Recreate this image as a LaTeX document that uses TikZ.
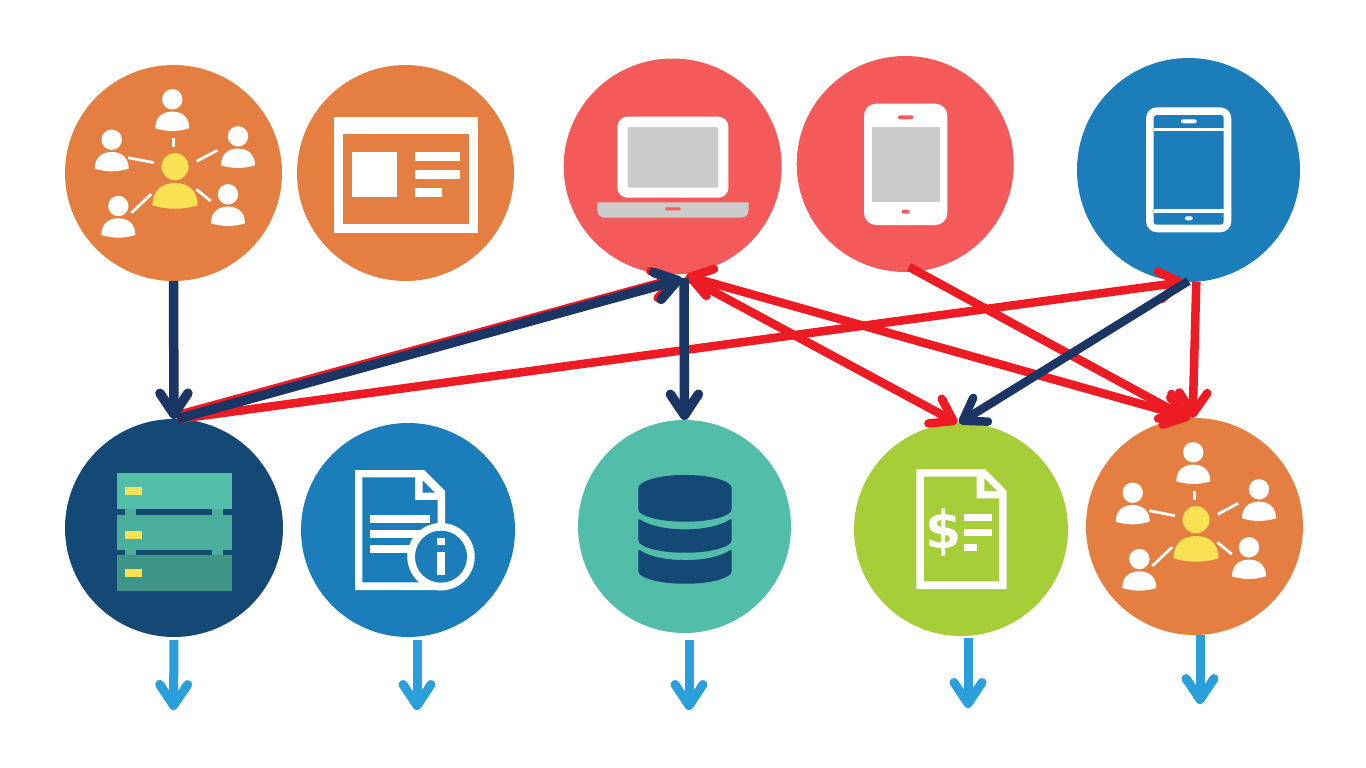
\documentclass[tikz,border=0pt]{standalone}
\usepackage{fontspec}
\setmainfont{Liberation Sans}
\newfontfamily\dollarfont{DejaVu Sans}
\usetikzlibrary{arrows.meta,shapes.geometric}
\definecolor{orangeC}{HTML}{E47E41}
\definecolor{coralC}{HTML}{F45A5A}
\definecolor{blueC}{HTML}{1B7DB9}
\definecolor{deepC}{HTML}{144875}
\definecolor{tealC}{HTML}{52BDA9}
\definecolor{tealM}{HTML}{4BAD9C}
\definecolor{tealD}{HTML}{3E9585}
\definecolor{greenC}{HTML}{A6CE39}
\definecolor{greyC}{HTML}{CCCCCC}
\definecolor{yellowC}{HTML}{F9E154}
\definecolor{navyA}{HTML}{1B3564}
\definecolor{redA}{HTML}{ED1C24}
\definecolor{skyA}{HTML}{2A9FDC}
\tikzset{
  disc/.style={shape=ellipse,inner sep=0pt,outer sep=0pt,draw=none},
  barb/.style={-{Straight Barb[round,length=21pt,width=28pt]},line cap=butt,line join=round},
  barbboth/.style={{Straight Barb[round,length=21pt,width=28pt]}-{Straight Barb[round,length=21pt,width=28pt]},line cap=butt,line join=round},
  navyarrow/.style={barb,draw=navyA,line width=9.5pt},
  redarrow/.style={barb,draw=redA,line width=8.5pt},
  redboth/.style={barbboth,draw=redA,line width=8.5pt},
  skyarrow/.style={barb,draw=skyA,line width=9pt},
  linkline/.style={draw=white,line width=2.8pt},
}
\newcommand{\personat}[4]{% head x, head y, scale, colour
  \begin{scope}[shift={(#1,#2)},scale=#3]
    \fill[#4] (0,0) circle[radius=10.2];
    \fill[#4] (-17,29) .. controls (-17,18) and (-10,12.3) .. (0,12.3)
      .. controls (10,12.3) and (17,18) .. (17,29)
      .. controls (6,32.5) and (-6,32.5) .. (-17,29) -- cycle;
  \end{scope}}
\newcommand{\groupicon}{%
  \personat{172.3}{99.3}{1}{white}
  \personat{111.7}{139.7}{1}{white}
  \personat{238}{136.3}{1}{white}
  \personat{118.3}{206}{1}{white}
  \personat{228}{194.3}{1}{white}
  \personat{175}{166.7}{1.33}{yellowC}
  \draw[linkline] (173.7,137.7) -- (173.7,146.7);
  \draw[linkline] (128.3,157.7) -- (154,162.7);
  \draw[linkline] (196.7,161.3) -- (217.3,150.3);
  \draw[linkline] (131.3,213) -- (151.3,194);
  \draw[linkline] (196.3,189.3) -- (210.7,201);}
\begin{document}
\begin{tikzpicture}[x=1pt,y=-1pt]
\useasboundingbox (0,0) rectangle (1366,768);
\fill[white] (0,0) rectangle (1366,768);
% discs
\node[disc,fill=orangeC,minimum width=217pt,minimum height=216pt] (c1) at (173.5,173) {};
\node[disc,fill=orangeC,minimum width=217pt,minimum height=216pt] (c2) at (405.5,173) {};
\node[disc,fill=coralC,minimum width=218pt,minimum height=216pt] (c3) at (672.7,166.5) {};
\node[disc,fill=coralC,minimum width=217pt,minimum height=216pt] (c4) at (905.2,164) {};
\node[disc,fill=blueC,minimum width=223pt,minimum height=224pt] (c5) at (1188.5,170) {};
\node[disc,fill=deepC,minimum width=218pt,minimum height=218pt] (c6) at (174,528) {};
\node[disc,fill=blueC,minimum width=214pt,minimum height=214pt] (c7) at (408,530) {};
\node[disc,fill=tealC,minimum width=213pt,minimum height=213pt] (c8) at (684.5,526.5) {};
\node[disc,fill=greenC,minimum width=214pt,minimum height=213pt] (c9) at (961,529.5) {};
\node[disc,fill=orangeC,minimum width=217pt,minimum height=217pt] (c10) at (1194.5,526.5) {};
% group icons
\groupicon
\begin{scope}[shift={(1021,353)}]\groupicon\end{scope}
% window icon
\fill[white] (334,116.7) rectangle (477.7,233);
\fill[orangeC] (343.3,134.3) rectangle (468.7,224);
\fill[white] (352.3,152.3) rectangle (397,197);
\fill[white] (414.7,152.3) rectangle (459.7,161.3);
\fill[white] (414.7,170.3) rectangle (459.7,179.3);
\fill[white] (414.7,188) rectangle (442,197);
% laptop
\fill[white,rounded corners=10pt] (617.4,116.7) rectangle (728.4,197.7);
\fill[greyC,rounded corners=1.5pt] (627.5,127) rectangle (718.4,187.7);
\fill[greyC] (597.3,202.3) -- (748.5,202.3) -- (748.5,210) .. controls (748.5,215) and (745,217.7) .. (741,217.7)
  -- (605,217.7) .. controls (601,217.7) and (597.3,215) .. (597.3,210) -- cycle;
\fill[coralC,rounded corners=1pt] (665.3,207.3) rectangle (680.6,210.3);
% tablet
\fill[white,rounded corners=12pt] (864,103.7) rectangle (947.3,225);
\fill[greyC] (871.7,126.7) rectangle (939.7,202);
\fill[coralC,rounded corners=2pt] (898,115.3) rectangle (913.3,119.3);
\fill[coralC,rounded corners=2pt] (901.7,209.7) rectangle (909.7,213.7);
% phone
\fill[white,rounded corners=11pt] (1146,107.3) rectangle (1231.3,232.3);
\fill[blueC,rounded corners=3pt] (1153.7,115) rectangle (1223.7,224.7);
\fill[white] (1153.7,127.7) rectangle (1223.7,131.3);
\fill[white] (1153.7,208.7) rectangle (1223.7,212.7);
\fill[white,rounded corners=2pt] (1181,119.3) rectangle (1196.7,123.3);
\fill[white,rounded corners=2pt] (1185,216.3) rectangle (1192.7,220.3);
% server
\fill[tealM] (125.3,505) rectangle (136,518);
\fill[tealM] (212.3,505) rectangle (223.3,518);
\fill[tealM] (125.3,546) rectangle (136,558);
\fill[tealM] (212.3,546) rectangle (223.3,558);
\fill[tealC] (117,473.3) rectangle (231.7,509);
\fill[tealM] (117,514.7) rectangle (231.7,550);
\fill[tealD] (117,555.3) rectangle (231.7,590.7);
\fill[yellowC] (125,487) rectangle (141.7,495.3);
\fill[yellowC] (125,530.7) rectangle (141.7,539);
\fill[yellowC] (125,569) rectangle (141.7,577);
% info document
\fill[white] (355,470) -- (424,470) -- (445,491) -- (445,530) -- (445,590) -- (355,590) -- cycle;
\fill[blueC] (362.3,477.3) -- (415,477.3) -- (415,500) -- (437.7,500) -- (437.7,582.3) -- (362.3,582.3) -- cycle;
\fill[blueC] (422.7,480.7) -- (435,492.7) -- (422.7,492.7) -- cycle;
\fill[white] (370,515.3) rectangle (430,522.7);
\fill[white] (370,530.3) rectangle (430,537.7);
\fill[white] (370,545) rectangle (430,552.7);
\fill[white] (441,556.7) circle[radius=33.7];
\fill[white] (441,583) rectangle (445,590);
\fill[blueC] (441,556.7) circle[radius=26];
\fill[white] (437.3,538) rectangle (445.3,545.3);
\fill[white] (437.3,552.3) rectangle (445.3,575);
% database
\fill[deepC,rounded corners=2pt] (638.3,490) .. controls (638.3,481) and (660,475) .. (685,475)
  .. controls (710,475) and (731.7,481) .. (731.7,490) -- (731.7,507.3)
  .. controls (731.7,516) and (710,521.7) .. (685,521.7)
  .. controls (660,521.7) and (638.3,516) .. (638.3,507.3) -- cycle;
\fill[deepC,rounded corners=2pt] (638.3,518.3) .. controls (648,525) and (665,529.3) .. (685,529.3)
  .. controls (705,529.3) and (722,525) .. (731.7,518.3) -- (731.7,538.3)
  .. controls (731.7,547) and (710,552.7) .. (685,552.7)
  .. controls (660,552.7) and (638.3,547) .. (638.3,538.3) -- cycle;
\fill[deepC,rounded corners=2pt] (638.3,549) .. controls (648,556) and (665,560) .. (685,560)
  .. controls (705,560) and (722,556) .. (731.7,549) -- (731.7,569.3)
  .. controls (731.7,578) and (710,583.7) .. (685,583.7)
  .. controls (660,583.7) and (638.3,578) .. (638.3,569.3) -- cycle;
% invoice
\fill[white] (916.3,469) -- (985,469) -- (1006.7,491) -- (1006.7,589) -- (916.3,589) -- cycle;
\fill[greenC] (924,476.7) -- (976.7,476.7) -- (976.7,498.3) -- (999,498.3) -- (999,581.3) -- (924,581.3) -- cycle;
\fill[greenC] (984.3,478.3) -- (997.3,491) -- (984.3,491) -- cycle;
\fill[white] (963.7,514) rectangle (991.7,521.3);
\fill[white] (963.7,529) rectangle (991.7,536.3);
\fill[white] (963.7,544) rectangle (976.7,551.3);
\node[text=white,inner sep=0pt,font={\dollarfont\fontsize{52}{52}\selectfont\bfseries}] (dollar) at (943.3,532.3) {\$};
% red connectors
\draw[redarrow] ([yshift=4pt]c6.88) -- ([yshift=-3.5pt]c3.-87);
\draw[redarrow] (c6.88) -- (c5.-92);
\draw[redboth] ([yshift=-2pt]c3.-83) -- (c10.92);
\draw[redarrow] ([yshift=-3pt]c3.-83) -- (c9.92);
\draw[redarrow] ([yshift=5pt]c4.-88) -- (c10.94);
\draw[redarrow] (c5.-86.5) -- (c10.91);
% navy connectors
\draw[navyarrow] (c1.south) -- (c6.north);
\draw[navyarrow] ([xshift=3pt]c6.north) -- ([yshift=-5pt]c3.-85);
\draw[navyarrow] ([yshift=-4pt]c3.-84) -- (c8.north);
\draw[navyarrow,line width=8.5pt] ([yshift=1pt]c5.south) -- (c9.91);
% outgoing connectors
\coordinate (o6) at (173.5,710); \coordinate (o7) at (417,710);
\coordinate (o8) at (689,710); \coordinate (o9) at (968,708); \coordinate (o10) at (1200,704);
\draw[skyarrow] ([yshift=-3pt]c6.south) -- (o6);
\draw[skyarrow] ([xshift=9pt,yshift=-3pt]c7.south) -- (o7);
\draw[skyarrow] ([xshift=4.5pt,yshift=-7pt]c8.south) -- (o8);
\draw[skyarrow] ([xshift=7pt,yshift=-2pt]c9.south) -- (o9);
\draw[skyarrow] ([xshift=5.5pt]c10.south) -- (o10);
\end{tikzpicture}
\end{document}
